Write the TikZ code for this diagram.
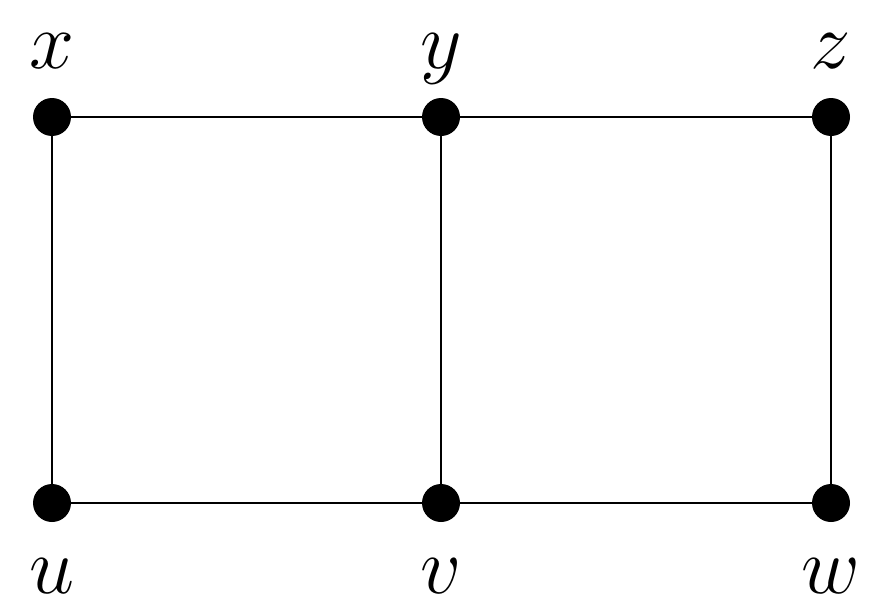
\RequirePackage{fix-cm}
\documentclass[tikz,border=0pt]{standalone}
\usepackage{amsmath}
\usepackage{tikz}
\usetikzlibrary{positioning}
\tikzset{
  vtx/.style={circle, fill, inner sep=0pt, minimum size=0.76cm},
  lbl/.style={font=\fontsize{46}{55}\selectfont, inner sep=0pt, text depth=0pt},
  edge/.style={line width=1.4pt}
}

\begin{document}
\begin{tikzpicture}
\useasboundingbox (0,0) rectangle (17.38,12.14);
% top row
\node[vtx, label={[lbl, label distance=0.58cm]above:$x$}] (x) at (1.04,9.8) {};
\node[vtx, label={[lbl, label distance=0.58cm]above:$y$}] (y) at (8.82,9.8) {};
\node[vtx, label={[lbl, label distance=0.58cm]above:$z$}] (z) at (16.62,9.8) {};
% bottom row
\node[vtx, label={[lbl, label distance=0.72cm]below:$u$}] (u) at (1.04,2.08) {};
\node[vtx, label={[lbl, label distance=0.72cm]below:$v$}] (v) at (8.82,2.08) {};
\node[vtx, label={[lbl, label distance=0.72cm]below:$w$}] (w) at (16.62,2.08) {};
\draw[edge] (x) -- (y) -- (z);
\draw[edge] (u) -- (v) -- (w);
\draw[edge] (x) -- (u);
\draw[edge] (y) -- (v);
\draw[edge] (z) -- (w);
\end{tikzpicture}
\end{document}
